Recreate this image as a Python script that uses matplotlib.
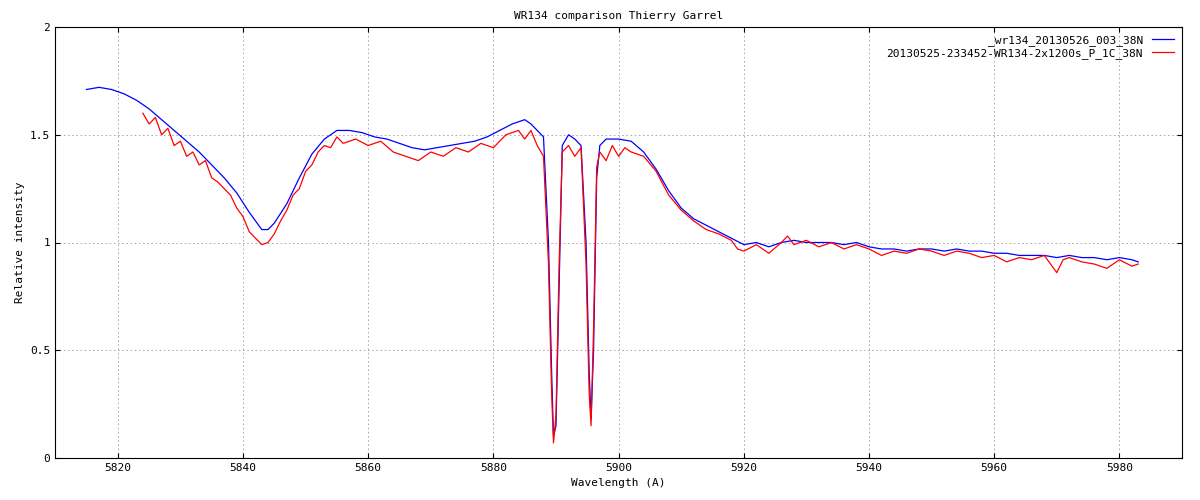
import matplotlib
matplotlib.use("Agg")
import matplotlib.pyplot as plt

blue_wl = [5815,5817,5819,5821,5823,5825,5827,5829,5831,5833,5835,5837,5839,5841,5843,5844,5845,5847,5849,5851,5853,5855,5857,5859,5861,5863,5865,5867,5869,5871,5873,5875,5877,5879,5881,5883,5885,5886,5887,5888,5888.8,5889.3,5889.6,5890,5890.5,5891,5892,5893,5894,5894.8,5895.3,5895.6,5896,5896.5,5897,5898,5900,5902,5904,5906,5908,5910,5912,5914,5916,5918,5920,5922,5924,5926,5928,5930,5932,5934,5936,5938,5940,5942,5944,5946,5948,5950,5952,5954,5956,5958,5960,5962,5964,5966,5968,5970,5972,5974,5976,5978,5980,5982,5983]
blue_val = [1.71,1.72,1.71,1.69,1.66,1.62,1.57,1.52,1.47,1.42,1.36,1.30,1.23,1.14,1.06,1.06,1.09,1.18,1.30,1.41,1.48,1.52,1.52,1.51,1.49,1.48,1.46,1.44,1.43,1.44,1.45,1.46,1.47,1.49,1.52,1.55,1.57,1.55,1.52,1.49,1.0,0.4,0.1,0.15,0.8,1.45,1.50,1.48,1.45,1.0,0.4,0.18,0.5,1.3,1.45,1.48,1.48,1.47,1.42,1.34,1.24,1.16,1.11,1.08,1.05,1.02,0.99,1.0,0.98,1.0,1.01,1.0,1.0,1.0,0.99,1.0,0.98,0.97,0.97,0.96,0.97,0.97,0.96,0.97,0.96,0.96,0.95,0.95,0.94,0.94,0.94,0.93,0.94,0.93,0.93,0.92,0.93,0.92,0.91]

red_wl = [5824,5825,5826,5827,5828,5829,5830,5831,5832,5833,5834,5835,5836,5837,5838,5839,5840,5841,5842,5843,5844,5845,5846,5847,5848,5849,5850,5851,5852,5853,5854,5855,5856,5858,5860,5862,5864,5866,5868,5870,5872,5874,5876,5878,5880,5882,5884,5885,5886,5887,5888,5888.8,5889.3,5889.6,5890,5890.5,5891,5892,5893,5894,5894.8,5895.3,5895.6,5896,5896.5,5897,5898,5899,5900,5901,5902,5904,5906,5908,5910,5912,5914,5916,5918,5919,5920,5922,5924,5926,5927,5928,5930,5932,5934,5936,5938,5940,5942,5944,5946,5948,5950,5952,5954,5956,5958,5960,5962,5964,5966,5968,5970,5971,5972,5974,5976,5978,5980,5982,5983]
red_val = [1.60,1.55,1.58,1.50,1.53,1.45,1.47,1.40,1.42,1.36,1.38,1.30,1.28,1.25,1.22,1.16,1.12,1.05,1.02,0.99,1.00,1.04,1.10,1.15,1.22,1.25,1.33,1.36,1.42,1.45,1.44,1.49,1.46,1.48,1.45,1.47,1.42,1.40,1.38,1.42,1.40,1.44,1.42,1.46,1.44,1.50,1.52,1.48,1.52,1.45,1.40,0.9,0.3,0.07,0.2,0.9,1.42,1.45,1.40,1.44,0.9,0.3,0.15,0.6,1.35,1.42,1.38,1.45,1.40,1.44,1.42,1.40,1.33,1.22,1.15,1.10,1.06,1.04,1.01,0.97,0.96,0.99,0.95,1.0,1.03,0.99,1.01,0.98,1.0,0.97,0.99,0.97,0.94,0.96,0.95,0.97,0.96,0.94,0.96,0.95,0.93,0.94,0.91,0.93,0.92,0.94,0.86,0.92,0.93,0.91,0.90,0.88,0.92,0.89,0.90]

labels = ["_wr134_20130526_003_38N", "20130525-233452-WR134-2x1200s_P_1C_38N"]

plt.rcParams["font.family"] = "DejaVu Sans Mono"
plt.rcParams["font.size"] = 8
fig = plt.figure(figsize=(12, 5), dpi=100)
ax = fig.add_axes([0.046, 0.084, 0.939, 0.862])
lb, = ax.plot(blue_wl, blue_val, color="blue", lw=0.9)
lr, = ax.plot(red_wl, red_val, color="red", lw=0.9)
ax.set_xlim(5810, 5990)
ax.set_ylim(0, 2)
ax.set_xticks(range(5820, 5981, 20))
ax.set_yticks([0, 0.5, 1, 1.5, 2])
ax.set_yticklabels(["0", "0.5", "1", "1.5", "2"])
ax.grid(True, ls=(0, (2, 3)), color="#a0a0a0", lw=0.6)
ax.tick_params(direction="in", top=True, right=True)
ax.set_xlabel("Wavelength (A)")
ax.set_ylabel("Relative intensity")
ax.set_title("WR134 comparison Thierry Garrel", fontsize=8)
ax.legend([lb, lr], labels, loc="upper right", frameon=False, markerfirst=False,
          handlelength=2, borderaxespad=0.3, labelspacing=0.2)
fig.savefig("out.png")
